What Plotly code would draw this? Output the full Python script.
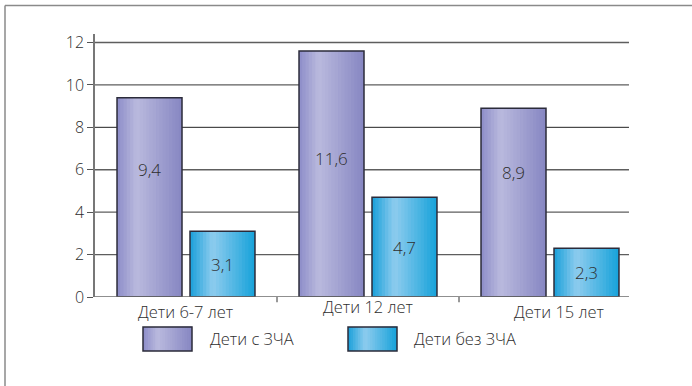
import plotly.graph_objects as go

# Data
categories = ["Дети 6-7 лет", "Дети 12 лет", "Дети 15 лет"]
series_names = ["Дети с ЗЧА", "Дети без ЗЧА"]
with_zcha = [9.4, 11.6, 8.9]
without_zcha = [3.1, 4.7, 2.3]
y_ticks = [0, 2, 4, 6, 8, 10, 12]

FONT = "Open Sans"
TEXT_COLOR = "#2e2e2e"
WEIGHT = 300

# Horizontal gradient stops (position, rgb) for each series
purple_stops = [(0.0, (140, 140, 200)), (0.3, (186, 186, 222)), (1.0, (134, 134, 194))]
blue_stops = [(0.0, (26, 160, 218)), (0.35, (142, 204, 238)), (1.0, (22, 162, 218))]


def grad_color(stops, t):
    for (p0, c0), (p1, c1) in zip(stops, stops[1:]):
        if p0 <= t <= p1:
            f = (t - p0) / (p1 - p0)
            c = [round(a + (b - a) * f) for a, b in zip(c0, c1)]
            return "rgb(%d,%d,%d)" % tuple(c)
    return "rgb(%d,%d,%d)" % stops[-1][1]


BAR_W = 0.357
OFFSETS = [-0.379, 0.022]
N_SLICES = 20

x_idx = list(range(len(categories)))
fig = go.Figure()

for values, stops, off, name in [
    (with_zcha, purple_stops, OFFSETS[0], series_names[0]),
    (without_zcha, blue_stops, OFFSETS[1], series_names[1]),
]:
    sw = BAR_W / N_SLICES
    # each slice runs to the right edge; later slices cover earlier ones
    for i in range(N_SLICES):
        fig.add_trace(go.Bar(
            x=x_idx, y=values, width=BAR_W - i * sw, offset=off + i * sw,
            marker=dict(color=grad_color(stops, (i + 0.5) / N_SLICES), line=dict(width=0)),
            showlegend=False, hoverinfo="skip",
        ))
    # outline of the bar
    fig.add_trace(go.Bar(
        x=x_idx, y=values, width=BAR_W, offset=off, name=name,
        marker=dict(color="rgba(0,0,0,0)", line=dict(color="#2b2b3a", width=1.5)),
        showlegend=False,
    ))

# Value labels: tall bars carry their label in the upper half
for i, v in enumerate(with_zcha):
    fig.add_annotation(x=i + OFFSETS[0] + BAR_W / 2, y=v * 0.25 + 3.65,
                       text=f"{v:.1f}".replace(".", ","), showarrow=False,
                       font=dict(family=FONT, size=17, color=TEXT_COLOR, weight=WEIGHT))
for i, v in enumerate(without_zcha):
    fig.add_annotation(x=i + OFFSETS[1] + BAR_W / 2, y=v / 2,
                       text=f"{v:.1f}".replace(".", ","), showarrow=False,
                       font=dict(family=FONT, size=17, color=TEXT_COLOR, weight=WEIGHT))

# Category labels
label_shift = [0, 0, 9]
label_y = [-14, -9, -14]
for i, c in enumerate(categories):
    fig.add_annotation(x=i, y=0, yref="y", yshift=label_y[i], xshift=label_shift[i],
                       text=c, showarrow=False, yanchor="middle",
                       font=dict(family=FONT, size=16.5, color=TEXT_COLOR, weight=WEIGHT))

shapes = []
GRID_END = 0.978
# gridlines
for t in y_ticks[1:]:
    shapes.append(dict(type="line", xref="paper", yref="y", x0=0, x1=GRID_END, y0=t, y1=t,
                       line=dict(color="#222" if t == 8 else "#5e5e5e", width=1 if t == 8 else 1.4),
                       layer="below"))
# baseline
shapes.append(dict(type="line", xref="paper", yref="y", x0=0, x1=GRID_END, y0=0, y1=0,
                   line=dict(color="#6a6a6a", width=1.6)))
# category boundary ticks
for b in [0.5, 1.5]:
    shapes.append(dict(type="line", xref="x", yref="paper", x0=b, x1=b, y0=0, y1=-0.02,
                       line=dict(color="#333", width=1)))

# outer frame (top and left edges)
PX0, PW, PY0, PH = 95, 546, 297, 263.5


def px(xp):
    return (xp - PX0) / PW


def py(yp):
    return (PY0 - yp) / PH


shapes.append(dict(type="line", xref="paper", yref="paper", x0=px(5), x1=px(700),
                   y0=py(5), y1=py(5), line=dict(color="#8a8a8a", width=1.5)))
shapes.append(dict(type="line", xref="paper", yref="paper", x0=px(5), x1=px(5),
                   y0=py(5), y1=py(400), line=dict(color="#8a8a8a", width=1.5)))

# legend swatches with gradient
legend_items = [(143, series_names[0], purple_stops, 208), (348, series_names[1], blue_stops, 412)]
for x0, name, stops, tx in legend_items:
    n = 20
    w = 49 / n
    for i in range(n):
        shapes.append(dict(type="rect", xref="paper", yref="paper",
                           x0=px(x0 + i * w), x1=px(x0 + 49),
                           y0=py(351), y1=py(327),
                           fillcolor=grad_color(stops, (i + 0.5) / n), line=dict(width=0)))
    shapes.append(dict(type="rect", xref="paper", yref="paper",
                       x0=px(x0), x1=px(x0 + 49), y0=py(351), y1=py(327),
                       fillcolor="rgba(0,0,0,0)", line=dict(color="#2b2b3a", width=1.5)))
    fig.add_annotation(xref="paper", yref="paper", x=px(tx), y=py(339), xanchor="left",
                       yanchor="middle", text=name, showarrow=False,
                       font=dict(family=FONT, size=16.5, color=TEXT_COLOR, weight=WEIGHT))

fig.update_layout(
    width=692, height=386,
    margin=dict(l=95, r=51, t=33.5, b=89),
    paper_bgcolor="white", plot_bgcolor="white",
    barmode="overlay", showlegend=False,
    shapes=shapes,
    xaxis=dict(range=[-0.5, 2.5], showticklabels=False, showgrid=False, zeroline=False,
               ticks="", showline=False, fixedrange=True),
    yaxis=dict(range=[0, 12.4], tickvals=y_ticks, showgrid=False, zeroline=False,
               showline=True, linecolor="#777", linewidth=1.5,
               ticks="outside", ticklen=6, tickcolor="#555", tickwidth=1,
               tickfont=dict(family=FONT, size=16, color=TEXT_COLOR, weight=WEIGHT)),
    font=dict(family=FONT),
)

fig.write_html("out.html")
